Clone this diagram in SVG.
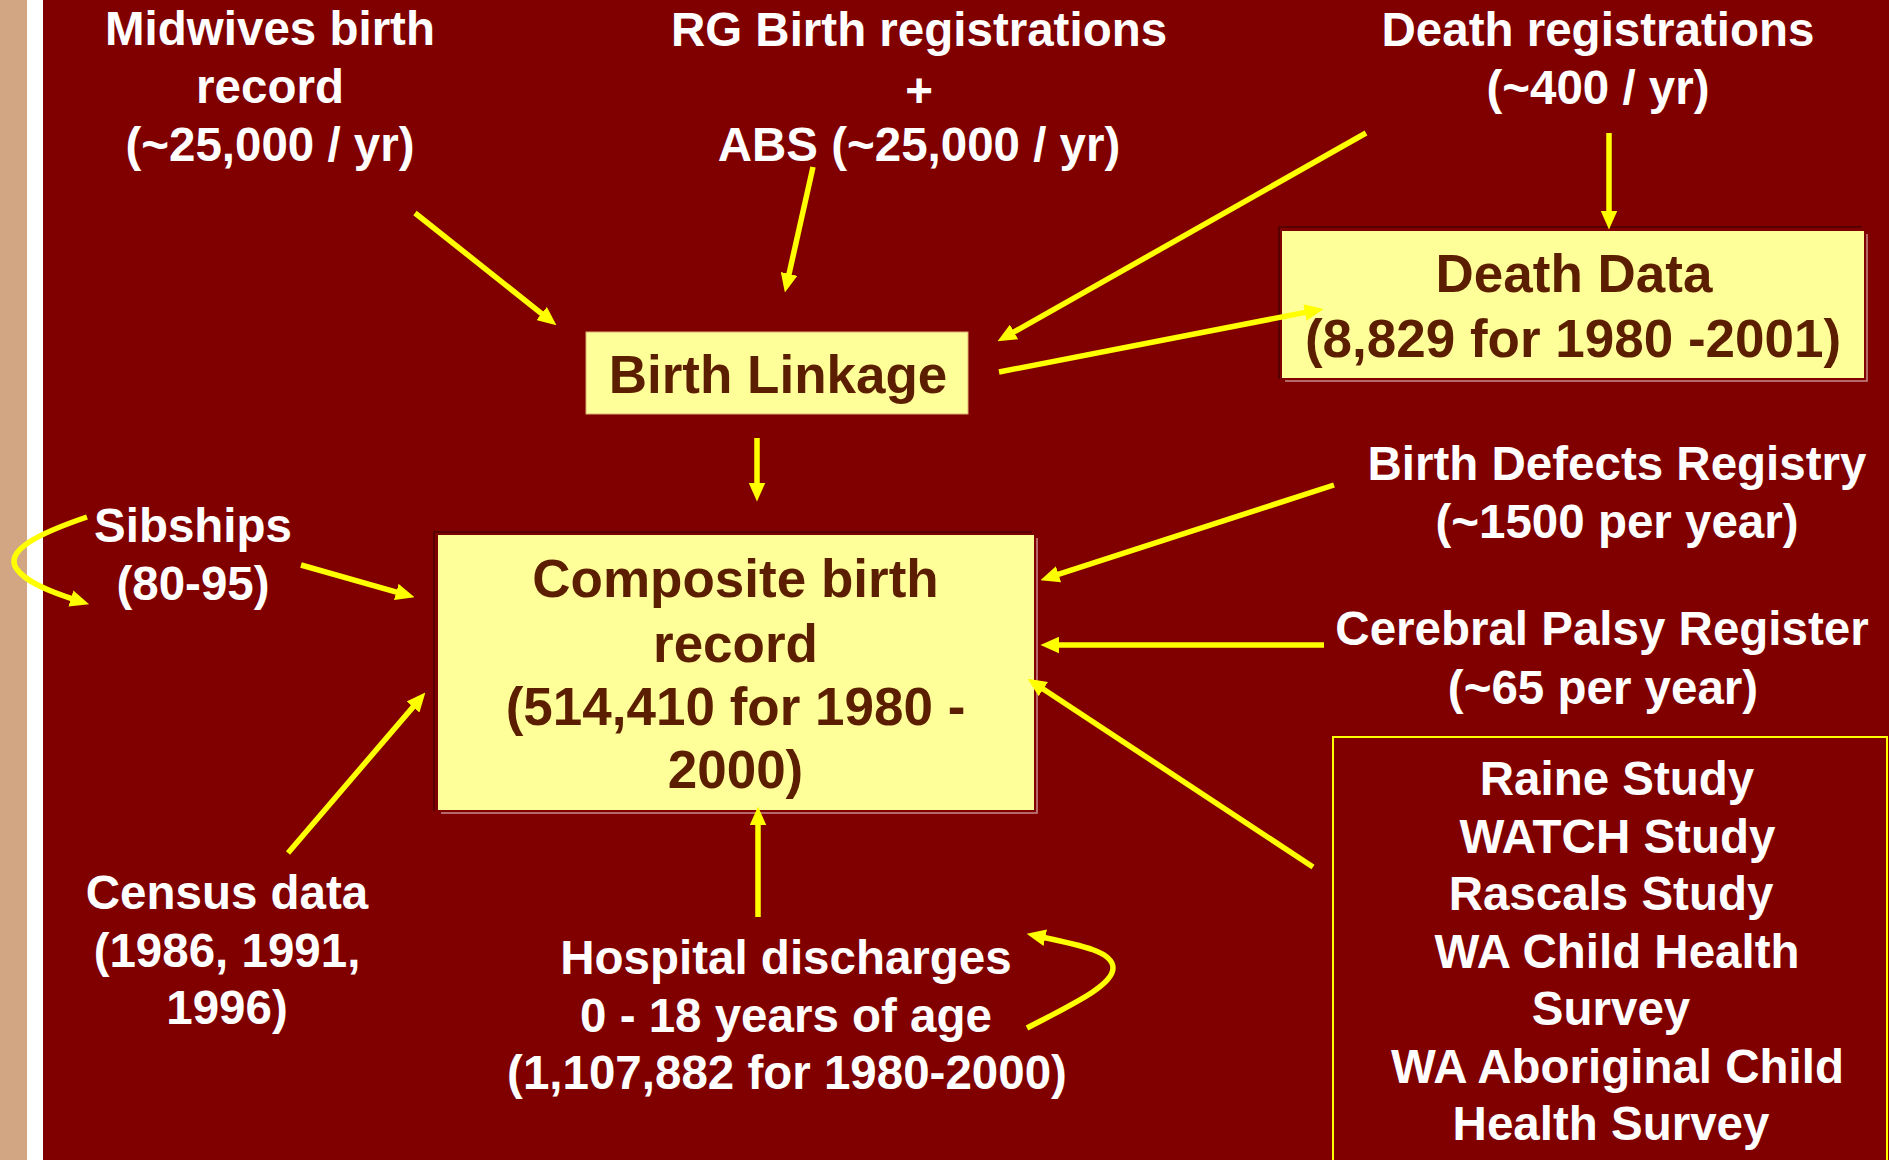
<svg xmlns="http://www.w3.org/2000/svg" width="1889" height="1160" viewBox="0 0 1889 1160">
  <defs>
    <style>
      .w { font-family: "Liberation Sans", Arial, sans-serif; font-weight: bold; font-size: 47.5px; fill: #FFFFFF; text-anchor: middle; }
      .b { font-family: "Liberation Sans", Arial, sans-serif; font-weight: bold; font-size: 53px; fill: #5C1E00; text-anchor: middle; }
      .box { fill: #FFFF99; }
      .dk { fill: none; stroke: #4A0000; stroke-width: 1.5; }
      .lt { fill: none; stroke: #C88A8A; stroke-width: 1.5; }
      .arr { fill: none; stroke: #FFFF00; stroke-width: 5.5; marker-end: url(#ah); }
    </style>
    <marker id="ah" markerUnits="userSpaceOnUse" viewBox="0 0 18 16" markerWidth="19" markerHeight="17" refX="8" refY="8" orient="auto">
      <path d="M0,0 L18,8 L0,16 z" fill="#FFFF00"/>
    </marker>
  </defs>

  <!-- background -->
  <rect x="0" y="0" width="1889" height="1160" fill="#800000"/>
  <rect x="0" y="0" width="27" height="1160" fill="#D3A683"/>
  <rect x="27" y="0" width="16" height="1160" fill="#FFFFFF"/>

  <!-- sources -->
  <g id="midwives">
    <text class="w" x="270" y="45">Midwives birth</text>
    <text class="w" x="270" y="103">record</text>
    <text class="w" x="270" y="160.5">(~25,000 / yr)</text>
  </g>
  <g id="rg-births">
    <text class="w" x="919" y="46">RG Birth registrations</text>
    <text class="w" x="919" y="107">+</text>
    <text class="w" x="919" y="161">ABS (~25,000 / yr)</text>
  </g>
  <g id="death-registrations">
    <text class="w" x="1598" y="46">Death registrations</text>
    <text class="w" x="1598" y="104">(~400 / yr)</text>
  </g>

  <g id="birth-linkage">
    <rect class="box" x="586" y="332" width="382" height="82" stroke="#D8B070" stroke-width="1"/>
    <text class="b" x="778" y="393">Birth Linkage</text>
  </g>

  <g id="death-data">
    <polyline class="dk" points="1279,379 1279,227 1862,227"/>
    <polyline class="lt" points="1285,381 1867,381 1867,234"/>
    <rect class="box" x="1282" y="231" width="582" height="147"/>
    <text class="b" x="1574" y="292">Death Data</text>
    <text class="b" x="1573" y="357">(8,829 for 1980 -2001)</text>
  </g>

  <g id="composite">
    <polyline class="dk" points="434,811 434,532 1032,532"/>
    <polyline class="lt" points="441,813 1037,813 1037,538"/>
    <rect class="box" x="438" y="535" width="596" height="275"/>
    <text class="b" x="735.5" y="597">Composite birth</text>
    <text class="b" x="735.5" y="662">record</text>
    <text class="b" x="735.5" y="725">(514,410 for 1980 -</text>
    <text class="b" x="735.5" y="788">2000)</text>
  </g>

  <g id="sibships">
    <text class="w" x="193" y="542">Sibships</text>
    <text class="w" x="193" y="600">(80-95)</text>
  </g>

  <g id="birth-defects">
    <text class="w" x="1617" y="480">Birth Defects Registry</text>
    <text class="w" x="1617" y="538">(~1500 per year)</text>
  </g>
  <g id="cerebral-palsy">
    <text class="w" x="1602" y="645">Cerebral Palsy Register</text>
    <text class="w" x="1603" y="704">(~65 per year)</text>
  </g>

  <g id="census">
    <text class="w" x="227" y="909">Census data</text>
    <text class="w" x="227" y="966.5">(1986, 1991,</text>
    <text class="w" x="227" y="1024">1996)</text>
  </g>

  <g id="hospital">
    <text class="w" x="786" y="974">Hospital discharges</text>
    <text class="w" x="786" y="1031.5">0 - 18 years of age</text>
    <text class="w" x="787" y="1089">(1,107,882 for 1980-2000)</text>
  </g>

  <g id="studies">
    <rect x="1333" y="737" width="554" height="440" fill="none" stroke="#FFFF00" stroke-width="2"/>
    <text class="w" x="1617" y="795">Raine Study</text>
    <text class="w" x="1617.5" y="853">WATCH Study</text>
    <text class="w" x="1611" y="910">Rascals Study</text>
    <text class="w" x="1617" y="967.5">WA Child Health</text>
    <text class="w" x="1611" y="1025">Survey</text>
    <text class="w" x="1617.5" y="1082.5">WA Aboriginal Child</text>
    <text class="w" x="1611" y="1140">Health Survey</text>
  </g>

  <!-- connectors -->
  <g id="connectors">
    <line class="arr" x1="415" y1="213" x2="548.2" y2="318.8"/>
    <line class="arr" x1="813" y1="167" x2="787.2" y2="282.2"/>
    <line class="arr" x1="1366" y1="133" x2="1006.7" y2="336.1"/>
    <line class="arr" x1="999" y1="372" x2="1313.2" y2="310.9"/>
    <line class="arr" x1="1609" y1="133" x2="1609" y2="219"/>
    <line class="arr" x1="757" y1="438" x2="757" y2="491"/>
    <line class="arr" x1="301" y1="565" x2="404.4" y2="594.3"/>
    <path class="arr" d="M87,517 C40,533 5,550 16,568 C25,582 50,592 79,601"/>
    <line class="arr" x1="288" y1="853" x2="418.5" y2="700.6"/>
    <line class="arr" x1="758" y1="917" x2="758" y2="817"/>
    <path class="arr" d="M1027,1028 C1075,1003 1113,985 1113,968 C1113,952 1085,946 1037,936"/>
    <line class="arr" x1="1334" y1="485" x2="1050.5" y2="576.9"/>
    <line class="arr" x1="1324" y1="645" x2="1051" y2="645"/>
    <line class="arr" x1="1313" y1="867" x2="1036.3" y2="684.5"/>
  </g>
</svg>
